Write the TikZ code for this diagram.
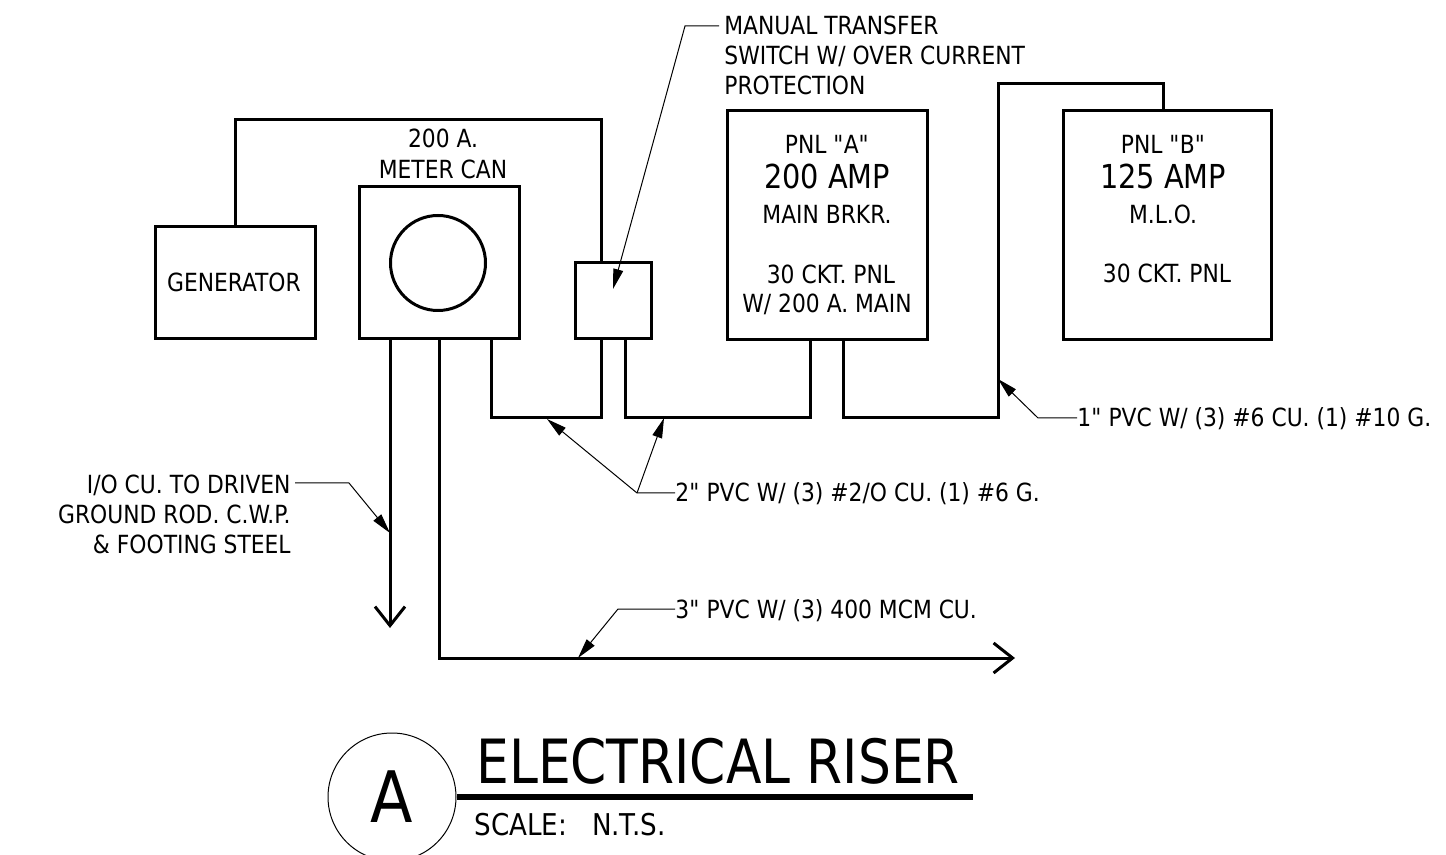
\documentclass[tikz,border=0pt]{standalone}
\usepackage{fontspec}
\setmainfont[FakeStretch=0.97]{DejaVu Sans Condensed}
\newfontfamily\titlefont[FakeStretch=0.945]{DejaVu Sans Condensed}
\usetikzlibrary{arrows.meta}
\usetikzlibrary{shapes.geometric}

\tikzset{
  box/.style={draw, line width=1.5pt, inner sep=0pt},
  wire/.style={line width=1.5pt, line join=miter},
  wirearrow/.style={wire, -{Straight Barb[length=9.5pt, width=15pt, line width=1.5pt]}},
  leader/.style={line width=0.5pt, -{Triangle[length=10pt, width=5pt]}},
  lbl/.style={inner sep=0pt, font=\fontsize{12.5}{15}\selectfont},
  lblbig/.style={inner sep=0pt, font=\fontsize{16.5}{18}\selectfont},
}

\begin{document}
\begin{tikzpicture}[x=0.5pt, y=-0.5pt]
\useasboundingbox (0,0) rectangle (1446,855);

\node [box, minimum width=80pt, minimum height=56pt] (genbox) at (235,283) {};
\node [box, minimum width=80pt, minimum height=76pt] (meterbox) at (439,263) {};
\node [box, circle, minimum size=47.5pt] (meterdial) at (438,263) {};
\node [box, minimum width=38pt, minimum height=38pt] (switchbox) at (613,301) {};
\node [box, minimum width=100pt, minimum height=114.5pt] (pnlabox) at (827,225) {};
\node [box, minimum width=104pt, minimum height=114.5pt] (pnlbbox) at (1167,225) {};

\node [lbl, anchor=base] (gentext) at (234,292) {GENERATOR};
\node [lbl, anchor=base] (metertexta) at (443,148) {200 A.};
\node [lbl, anchor=base] (metertextb) at (443,179) {METER CAN};

\node [lbl, anchor=base] (pnlatexta) at (827,154) {PNL \textquotedbl A\textquotedbl};
\node [lblbig, anchor=base] (pnlatextb) at (827,189) {200 AMP};
\node [lbl, anchor=base] (pnlatextc) at (827,224) {MAIN BRKR.};
\node [lbl, anchor=base] (pnlatextd) at (831,284) {30 CKT. PNL};
\node [lbl, anchor=base] (pnlatexte) at (827,313) {W/ 200 A. MAIN};

\node [lbl, anchor=base] (pnlbtexta) at (1163,154) {PNL \textquotedbl B\textquotedbl};
\node [lblbig, anchor=base] (pnlbtextb) at (1163,189) {125 AMP};
\node [lbl, anchor=base] (pnlbtextc) at (1163,224) {M.L.O.};
\node [lbl, anchor=base] (pnlbtextd) at (1167,283) {30 CKT. PNL};

% feeders
\coordinate (gencorner) at (235,120);
\coordinate (switchin) at (601,263);
\coordinate (switchout) at (601,339);
\coordinate (feedera) at (601,418);
\coordinate (feederb) at (491,418);
\coordinate (meterout) at (491,339);
\draw [wire] (genbox.north) -- (gencorner) -- (gencorner -| switchin) -- (switchin);
\draw [wire] (switchout) -- (feedera) -- (feederb) -- (meterout);

\coordinate (switchload) at (625,339);
\coordinate (pnlain) at (810,339);
\coordinate (feederc) at (625,418);
\coordinate (feederd) at (810,418);
\draw [wire] (switchload) -- (feederc) -- (feederd) -- (pnlain);

\coordinate (pnlaout) at (843,339);
\coordinate (feedere) at (843,418);
\coordinate (feederf) at (998,418);
\coordinate (feederg) at (998,84);
\coordinate (feederh) at (1163,84);
\coordinate (pnlbin) at (1163,110);
\draw [wire] (pnlaout) -- (feedere) -- (feederf) -- (feederg) -- (feederh) -- (pnlbin);

\coordinate (groundout) at (390,339);
\coordinate (groundend) at (390,628);
\draw [wirearrow] (groundout) -- (groundend);

\coordinate (serviceout) at (439,339);
\coordinate (servicecorner) at (439,658);
\coordinate (serviceend) at (1015,658);
\draw [wirearrow] (serviceout) -- (servicecorner) -- (serviceend);

% leaders
\node [lbl, anchor=base west, align=left] (switchlbl) at (724,95) {MANUAL TRANSFER\\SWITCH W/ OVER CURRENT\\PROTECTION};
\coordinate (switchstart) at (719,26);
\coordinate (switchbend) at (685,26);
\coordinate (switchtip) at (613,289);
\draw [leader] (switchstart) -- (switchbend) -- (switchtip);

\node [lbl, anchor=base west] (pvconelbl) at (1077,427) {1\textquotedbl{} PVC W/ (3) \#6 CU. (1) \#10 G.};
\coordinate (pvconebend) at (1038,418);
\coordinate (pvconetip) at (998,379);
\draw [leader] (pvconelbl.west |- pvconebend) -- (pvconebend) -- (pvconetip);

\node [lbl, anchor=base west] (pvctwolbl) at (675,502) {2\textquotedbl{} PVC W/ (3) \#2/O CU. (1) \#6 G.};
\coordinate (pvctwobend) at (637,493);
\coordinate (pvctwotipa) at (547,419);
\coordinate (pvctwotipb) at (664,418);
\draw [leader] (pvctwolbl.west |- pvctwobend) -- (pvctwobend) -- (pvctwotipa);
\draw [leader] (pvctwobend) -- (pvctwotipb);

\node [lbl, anchor=base west] (pvcthreelbl) at (675,618) {3\textquotedbl{} PVC W/ (3) 400 MCM CU.};
\coordinate (pvcthreebend) at (618,609);
\coordinate (pvcthreetip) at (578,658);
\draw [leader] (pvcthreelbl.west |- pvcthreebend) -- (pvcthreebend) -- (pvcthreetip);

\node [lbl, anchor=base east, align=right] (groundlbl) at (291,553) {I/O CU. TO DRIVEN\\GROUND ROD. C.W.P.\\\& FOOTING STEEL};
\coordinate (groundstart) at (295,483);
\coordinate (groundbend) at (349,483);
\coordinate (groundtip) at (390,533);
\draw [leader] (groundstart) -- (groundbend) -- (groundtip);

% title
\node [draw, circle, line width=0.5pt, minimum size=64pt, inner sep=0pt] (markcircle) at (392,797) {};
\node [inner sep=0pt, font=\fontsize{35.5}{36}\selectfont] (marktext) at (392,797) {A};
\node [inner sep=0pt, anchor=base west, font=\titlefont\fontsize{30.5}{32}\selectfont] (titletext) at (476,783) {ELECTRICAL RISER};
\node [inner sep=0pt, anchor=base west, font=\fontsize{15}{18}\selectfont] (scaletext) at (474,835) {SCALE:\ \ \ N.T.S.};
\coordinate (titleend) at (973,797);
\draw [line width=3pt] (markcircle.east) -- (titleend);

\end{tikzpicture}
\end{document}
